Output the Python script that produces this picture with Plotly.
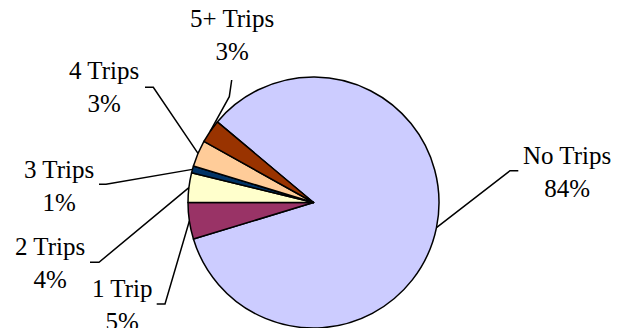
import math
import plotly.graph_objects as go

# Number of trips taken, share of respondents (%)
categories = ["No Trips", "1 Trip", "2 Trips", "3 Trips", "4 Trips", "5+ Trips"]
shares = [84.2, 4.7, 3.8, 0.9, 3.4, 3.0]
colors = ["#CCCCFF", "#993366", "#FFFFCC", "#003366", "#FFCC99", "#993300"]

# Canvas and pie geometry (pixels, origin top-left)
W, H = 626, 328
PIE_CX, PIE_CY, PIE_R = 313.5, 202.5, 125.5

# Clockwise pie; the boundary after "1 Trip" sits at 9 o'clock
total = sum(shares)
rotation = 270 - 360 * (shares[0] + shares[1]) / total

# Label text centres and leader-line elbows/ends (pixels)
label_pos = [(567, 172), (122.5, 305), (50.5, 263), (58.5, 186), (104, 87), (231.7, 35)]
leader_elbow = [(510, 170.7), (165, 304), (99, 262.3), (106, 184.3), (153.3, 87.3), (229.3, 96.7)]
leader_end = [(518.3, 170.7), (156.7, 304), (90, 262.3), (99, 184.3), (145, 87.3), (231.7, 80)]

FONT = dict(family="Liberation Serif, Times New Roman, serif", size=25, color="#000000")


def px(x, y):
    return x / W, 1 - y / H


fig = go.Figure(
    go.Pie(
        labels=categories,
        values=shares,
        sort=False,
        direction="clockwise",
        rotation=rotation,
        textinfo="none",
        hoverinfo="label+percent",
        marker=dict(colors=colors, line=dict(color="#000000", width=1.5)),
        domain=dict(
            x=[(PIE_CX - PIE_R) / W, (PIE_CX + PIE_R) / W],
            y=[(H - PIE_CY - PIE_R) / H, (H - PIE_CY + PIE_R) / H],
        ),
        showlegend=False,
    )
)

annotations = []
shapes = []
cum = 0.0
for name, v, (lx, ly), (ex, ey), (tx, ty) in zip(
    categories, shares, label_pos, leader_elbow, leader_end
):
    mid = math.radians(rotation + 360 * (cum + v / 2) / total)
    cum += v
    sx = PIE_CX + PIE_R * math.sin(mid)
    sy = PIE_CY - PIE_R * math.cos(mid)
    p0, p1, p2 = px(sx, sy), px(ex, ey), px(tx, ty)
    shapes.append(
        dict(
            type="path",
            xref="paper",
            yref="paper",
            path=f"M {p0[0]},{p0[1]} L {p1[0]},{p1[1]} L {p2[0]},{p2[1]}",
            line=dict(color="#000000", width=1.5),
        )
    )
    ax, ay = px(lx, ly)
    annotations.append(
        dict(
            x=ax,
            y=ay,
            xref="paper",
            yref="paper",
            xanchor="center",
            yanchor="middle",
            align="center",
            showarrow=False,
            text=f"{name}<br>{round(100 * v / total)}%",
            font=FONT,
        )
    )

fig.update_layout(
    width=W,
    height=H,
    margin=dict(l=0, r=0, t=0, b=0),
    paper_bgcolor="#FFFFFF",
    plot_bgcolor="#FFFFFF",
    annotations=annotations,
    shapes=shapes,
)

fig.write_html("out.html")
